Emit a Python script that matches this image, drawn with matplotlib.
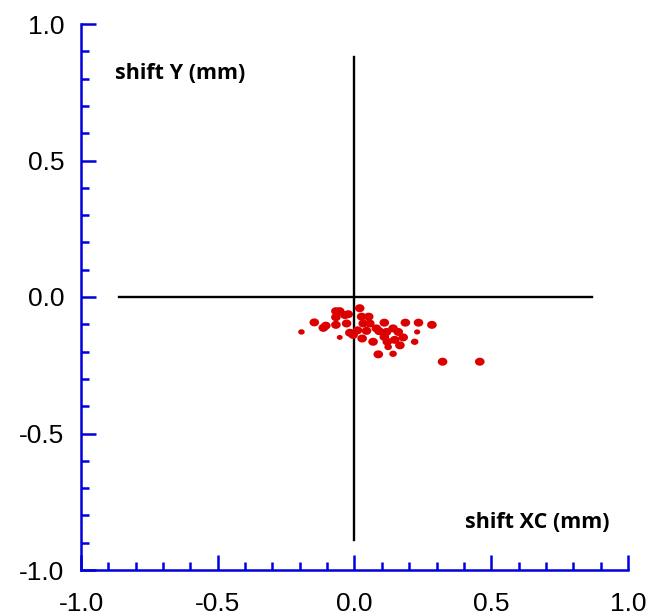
import matplotlib
matplotlib.use("Agg")
import matplotlib.pyplot as plt
from matplotlib.path import Path
import numpy as np

# shift values (mm)
shift_xc = [-0.194, -0.147, -0.114, -0.105, -0.068, -0.068, -0.068, -0.054, -0.054, -0.035,
            -0.029, -0.023, -0.017, -0.005, 0.011, 0.019, 0.026, 0.032, 0.028, 0.044,
            0.052, 0.056, 0.068, 0.080, 0.087, 0.090, 0.109, 0.109, 0.117, 0.120,
            0.123, 0.141, 0.141, 0.147, 0.160, 0.166, 0.178, 0.186, 0.220, 0.229,
            0.234, 0.283, 0.322, 0.458]
shift_y = [-0.128, -0.093, -0.113, -0.105, -0.052, -0.074, -0.102, -0.148, -0.052, -0.066,
           -0.097, -0.063, -0.131, -0.139, -0.122, -0.041, -0.072, -0.097, -0.152, -0.124,
           -0.072, -0.097, -0.164, -0.115, -0.210, -0.125, -0.094, -0.146, -0.128, -0.164,
           -0.183, -0.115, -0.208, -0.157, -0.128, -0.177, -0.148, -0.094, -0.164, -0.128,
           -0.094, -0.102, -0.237, -0.237]
marker_sizes = [22, 48, 48, 48, 48, 48, 48, 18, 48, 48,
                48, 48, 48, 48, 48, 48, 48, 48, 48, 48,
                48, 48, 48, 48, 48, 48, 48, 48, 48, 48,
                30, 48, 30, 48, 48, 48, 48, 48, 30, 20,
                48, 48, 48, 48]

x_ticks = [-1.0, -0.5, 0.0, 0.5, 1.0]
y_ticks = [-1.0, -0.5, 0.0, 0.5, 1.0]
x_label = "shift XC (mm)"
y_label = "shift Y (mm)"

blue = "#0000dd"

# slightly wide elliptical dot marker
theta = np.linspace(0, 2 * np.pi, 41)
ell = Path(np.column_stack([1.2 * np.cos(theta), np.sin(theta)]), closed=True)

fig = plt.figure(figsize=(6.49, 6.15), dpi=100)
ax = fig.add_axes([81/649, 45/615, 547/649, 546/615])
ax.set_xlim(-1.0, 1.0)
ax.set_ylim(-1.0, 1.0)

# crosshair
ax.plot([-0.86, 0.87], [0, 0], color="black", lw=1.7, zorder=2)
ax.plot([0, 0], [-0.89, 0.88], color="black", lw=1.7, zorder=2)

ax.scatter(shift_xc, shift_y, s=marker_sizes, marker=ell, color="#dd0000",
           edgecolors="none", zorder=3)

for side in ["top", "right"]:
    ax.spines[side].set_visible(False)
for side in ["left", "bottom"]:
    ax.spines[side].set_color(blue)
    ax.spines[side].set_linewidth(1.8)

ax.set_xticks(x_ticks)
ax.set_yticks(y_ticks)
ax.set_xticklabels([f"{v:.1f}" for v in x_ticks])
ax.set_yticklabels([f"{v:.1f}" for v in y_ticks])
ax.set_xticks(np.arange(-1.0, 1.01, 0.1), minor=True)
ax.set_yticks(np.arange(-1.0, 1.01, 0.1), minor=True)
ax.tick_params(which="major", direction="in", length=11, width=1.8, color=blue,
               labelsize=19)
ax.tick_params(which="minor", direction="in", length=6, width=1.8, color=blue)
for lab in ax.get_xticklabels() + ax.get_yticklabels():
    lab.set_fontfamily("Liberation Sans")
ax.tick_params(axis="y", pad=12)
ax.tick_params(axis="x", pad=16)

ax.text(-0.875, 0.82, y_label, fontsize=15.5, fontweight="bold", family="Open Sans",
        ha="left", va="center")
ax.text(0.405, -0.827, x_label, fontsize=15.5, fontweight="bold", family="Open Sans",
        ha="left", va="center")

fig.savefig("out.png", dpi=100)
